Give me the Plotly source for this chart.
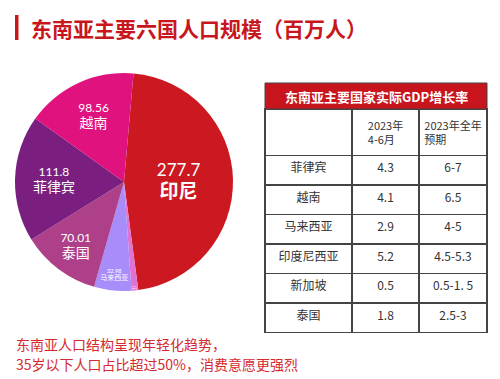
import plotly.graph_objects as go

# ---- data ----
countries = ["印尼", "新加坡", "马来西亚", "泰国", "菲律宾", "越南"]
population = [277.7, 5.92, 32.98, 70.01, 111.8, 98.56]
pie_colors = ["#CC1820", "#E272D2", "#A88CFA", "#AD4088", "#7A1F80", "#E0127E"]

table_title = "东南亚主要国家实际GDP增长率"
col_headers = ["", "2023年<br>4-6月", "2023年全年<br>预期"]
gdp_countries = ["菲律宾", "越南", "马来西亚", "印度尼西亚", "新加坡", "泰国"]
gdp_q2 = ["4.3", "4.1", "2.9", "5.2", "0.5", "1.8"]
gdp_full = ["6-7", "6.5", "4-5", "4.5-5.3", "0.5-1. 5", "2.5-3"]

title = "东南亚主要六国人口规模（百万人）"
note_lines = ["东南亚人口结构呈现年轻化趋势，", "35岁以下人口占比超过50%，消费意愿更强烈"]

# the page body has an 8px default margin; compensate so the picture lines up
OFF = 8
W, H = 500 - OFF, 379 - OFF
FONT = "Noto Sans CJK SC"
NUMFONT = "Lato, Noto Sans CJK SC"
RED = "#C8161D"

def px(x):
    return (x - OFF) / W

def py(y):
    return 1 - (y - OFF) / H

templates = []
sizes = []
for i, c in enumerate(countries):
    if i == 0:
        templates.append("%{value}<br><b><span style='font-size:19px;font-family:Noto Sans CJK SC'>%{label}</span></b>")
        sizes.append(17)
    elif i == 1:
        templates.append("%{value}<br>%{label}")
        sizes.append(5)
    elif i == 2:
        templates.append("%{value}<br><span style='font-size:11px;font-family:Noto Sans CJK SC'>%{label}</span>")
        sizes.append(9)
    else:
        templates.append("%{value}<br><span style='font-size:14px;font-family:Noto Sans CJK SC'>%{label}</span>")
        sizes.append(12)

fig = go.Figure()

fig.add_trace(go.Pie(
    labels=countries,
    values=population,
    sort=False,
    direction="clockwise",
    rotation=5,
    marker=dict(colors=pie_colors, line=dict(width=0)),
    texttemplate=templates,
    textposition="inside",
    insidetextorientation="horizontal",
    textfont=dict(family=NUMFONT, size=sizes, color="white"),
    hoverinfo="label+value",
    showlegend=False,
    domain=dict(x=[px(15), px(233)], y=[py(291), py(73)]),
))

fig.add_trace(go.Table(
    columnwidth=[87, 67, 68],
    domain=dict(x=[px(265), px(487)], y=[py(335), py(109)]),
    header=dict(
        values=col_headers,
        fill_color="white",
        line=dict(color="#444444", width=1.5),
        font=dict(family=FONT, size=11, color="#333333"),
        align="center",
        height=40,
    ),
    cells=dict(
        values=[gdp_countries, gdp_q2, gdp_full],
        fill_color="white",
        line=dict(color="#444444", width=1.5),
        font=dict(family=FONT, size=12, color="#333333"),
        align="center",
        height=29.5,
    ),
))

shapes = [
    dict(type="rect", xref="paper", yref="paper", x0=px(15), x1=px(18.5), y0=py(40), y1=py(15),
         fillcolor=RED, line=dict(width=0)),
    dict(type="rect", xref="paper", yref="paper", x0=px(265), x1=px(487), y0=py(109), y1=py(83),
         fillcolor="#C8141C", line=dict(color="#444444", width=1)),
]

annotations = [
    dict(text="<b>" + title + "</b>", x=px(29), y=py(28), xref="paper", yref="paper",
         xanchor="left", yanchor="middle", showarrow=False,
         font=dict(family=FONT, size=21, color=RED)),
    dict(text="<b>" + table_title + "</b>", x=px(376), y=py(96), xref="paper", yref="paper",
         xanchor="center", yanchor="middle", showarrow=False,
         font=dict(family=FONT, size=13, color="white")),
    dict(text=note_lines[0], x=px(14), y=py(344), xref="paper", yref="paper",
         xanchor="left", yanchor="middle", showarrow=False,
         font=dict(family=FONT, size=14, color="#D42A30")),
    dict(text=note_lines[1], x=px(14), y=py(364), xref="paper", yref="paper",
         xanchor="left", yanchor="middle", showarrow=False,
         font=dict(family=FONT, size=14, color="#D42A30")),
]

fig.update_layout(
    width=W, height=H,
    margin=dict(l=0, r=0, t=0, b=0),
    paper_bgcolor="white",
    plot_bgcolor="white",
    shapes=shapes,
    annotations=annotations,
    font=dict(family=FONT),
)

fig.write_html("out.html")
